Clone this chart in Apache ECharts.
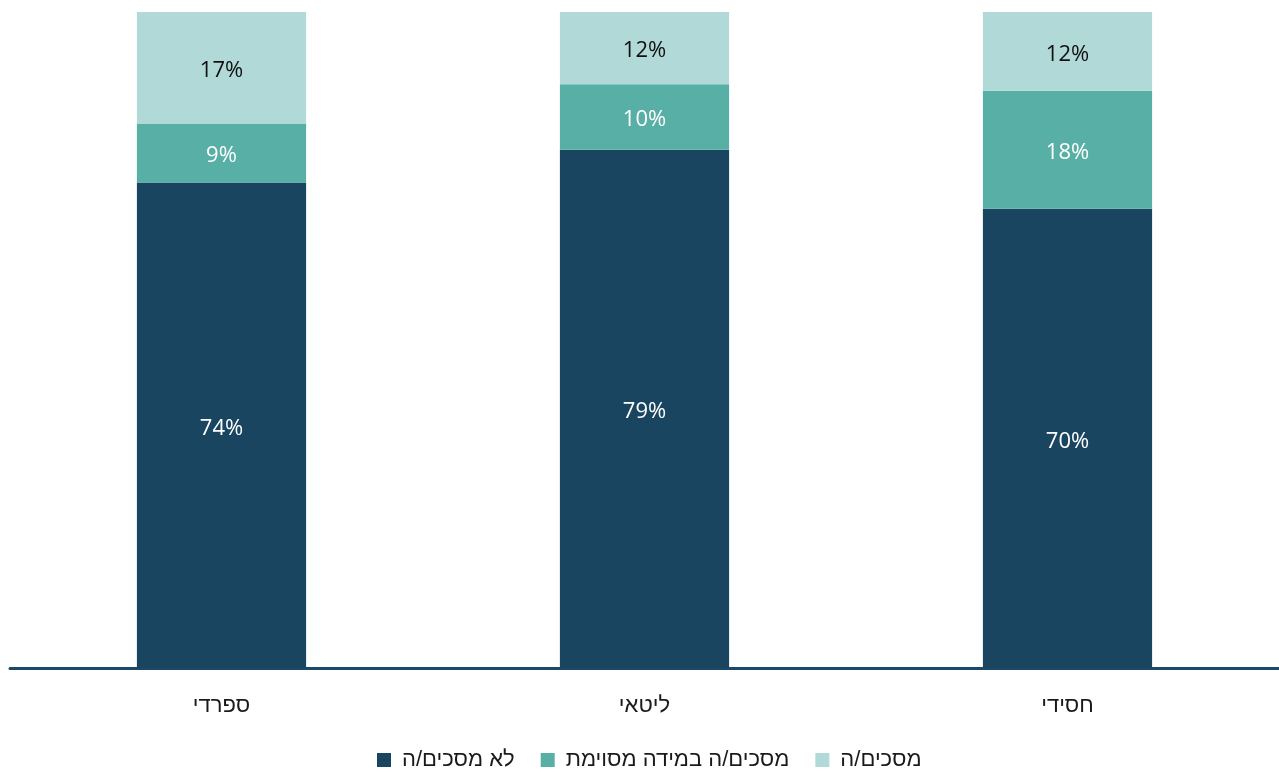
<!DOCTYPE html>
<html lang="he">
<head>
<meta charset="utf-8">
<title>עמדות לפי זרם</title>
<script src="https://cdn.jsdelivr.net/npm/echarts@6/dist/echarts.min.js"></script>
<style>
  html, body { margin: 0; padding: 0; background: #ffffff; }
  #chart { width: 1279px; height: 772px; }
</style>
</head>
<body>
<div id="chart"></div>
<script>
// Groups along the x axis
const categories = ['ספרדי', 'ליטאי', 'חסידי'];

// Series names (legend order)
const seriesNames = ['לא מסכים/ה', 'מסכים/ה במידה מסוימת', 'מסכים/ה'];

// Percent values per group
const disagree = [74, 79, 70];
const somewhatAgree = [9, 10, 18];
const agree = [17, 12, 12];

const colors = ['#1a4560', '#58afa6', '#b0d9d7'];
const labelColors = ['#ffffff', '#ffffff', '#111111'];
const seriesValues = [disagree, somewhatAgree, agree];

const numFont = '"Open Sans", "Liberation Sans", sans-serif';
const hebFont = '"Liberation Sans", "DejaVu Sans", sans-serif';

const chart = echarts.init(document.getElementById('chart'), null, { renderer: 'canvas' });

chart.setOption({
  animation: false,
  color: colors,
  grid: { left: 10, right: 0, top: 12, bottom: 104, containLabel: false },
  legend: {
    top: 749,
    left: 377,
    padding: 0,
    itemWidth: 14,
    itemHeight: 14,
    itemGap: 26,
    icon: 'rect',
    textStyle: { fontFamily: hebFont, fontSize: 22, color: '#1a1a1a', padding: [0, 0, 0, 6] },
    data: seriesNames
  },
  xAxis: {
    type: 'category',
    data: categories,
    axisLine: { show: true, lineStyle: { color: '#1b4a68', width: 3 } },
    axisTick: { show: false },
    axisLabel: { fontFamily: hebFont, fontSize: 22, color: '#1a1a1a', margin: 27 }
  },
  yAxis: {
    type: 'value',
    min: 0,
    max: 100,
    show: false,
    splitLine: { show: false }
  },
  series: seriesValues.map((vals, i) => ({
    name: seriesNames[i],
    type: 'bar',
    stack: 'total',
    barWidth: '40%',
    data: vals,
    itemStyle: { color: colors[i] },
    label: {
      show: true,
      position: 'inside',
      offset: [0, 3],
      formatter: p => p.value + '%',
      fontFamily: numFont,
      fontSize: 22,
      color: labelColors[i]
    }
  }))
});
</script>
</body>
</html>
